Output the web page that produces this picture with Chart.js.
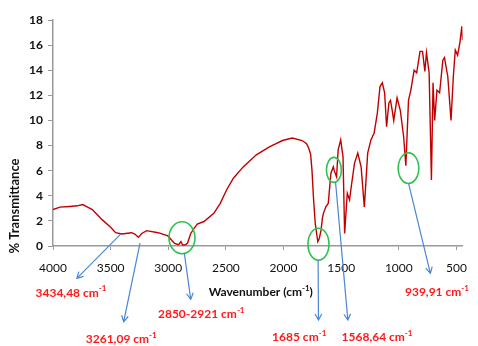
<!DOCTYPE html>
<html>
<head>
<meta charset="utf-8">
<script src="https://cdn.jsdelivr.net/npm/chart.js@4.4.1/dist/chart.umd.min.js"></script>
<style>
  html, body { margin: 0; padding: 0; background: #ffffff; }
  #wrap { width: 478px; height: 346px; position: relative; }
</style>
</head>
<body>
<div id="wrap"><canvas id="c" width="478" height="346"></canvas></div>
<script>
// ---- data ----
const wavenumbers = [4000, 3940, 3855, 3790, 3742, 3700, 3659, 3574, 3500, 3457, 3403, 3318, 3290, 3259, 3230, 3188, 3088, 3003, 2946, 2910, 2890, 2875, 2850, 2833, 2805, 2776, 2748, 2690, 2605, 2549, 2492, 2435, 2350, 2236, 2123, 2009, 1924, 1839, 1800, 1782, 1765, 1753, 1740, 1725, 1703, 1690, 1674, 1663, 1654, 1634, 1612, 1589, 1568, 1560, 1540, 1526, 1504, 1484, 1470, 1447, 1427, 1413, 1384, 1356, 1327, 1299, 1270, 1242, 1214, 1186, 1163, 1143, 1123, 1106, 1086, 1072, 1058, 1044, 1015, 987, 958, 939, 916, 896, 867, 845, 816, 794, 774, 760, 737, 717, 703, 689, 669, 646, 618, 604, 575, 547, 527, 510, 490, 470, 453, 447];
const transmittance = [2.9, 3.1, 3.15, 3.2, 3.3, 3.1, 2.9, 2.1, 1.5, 1.06, 0.96, 1.06, 0.95, 0.69, 1.0, 1.22, 1.06, 0.8, 0.2, 0.1, 0.35, 0.08, 0.1, 0.24, 1.0, 1.4, 1.75, 1.95, 2.6, 3.4, 4.5, 5.4, 6.3, 7.26, 7.9, 8.4, 8.6, 8.4, 8.15, 7.8, 7.3, 6.0, 3.8, 1.8, 0.35, 0.6, 1.28, 2.2, 2.6, 3.1, 3.4, 5.8, 6.3, 6.0, 5.5, 7.66, 8.45, 7.1, 1.0, 4.2, 3.67, 4.7, 6.6, 7.4, 6.3, 3.1, 7.4, 8.45, 9.0, 10.6, 12.7, 13.0, 12.2, 9.5, 11.4, 11.6, 10.85, 10.0, 11.8, 10.8, 8.7, 6.4, 11.6, 12.4, 14.0, 13.8, 15.5, 15.5, 13.9, 15.4, 13.8, 5.26, 13.0, 10.0, 12.4, 12.2, 14.8, 15.0, 13.5, 10.0, 13.5, 15.6, 15.2, 16.2, 17.5, 16.4];
const xTickValues = [4000, 3500, 3000, 2500, 2000, 1500, 1000, 500];
const yTickValues = [0, 2, 4, 6, 8, 10, 12, 14, 16, 18];

// peak annotations (anchored in data coordinates)
const peakLabels = ["3434,48", "3261,09", "2850-2921", "1685", "1568,64", "939,91"];
const labelAnchorWn = [3844, 3408, 2714, 1864, 1189, 669];
const labelAnchorT = [-3.72, -7.44, -5.45, -7.28, -7.28, -3.69];
const arrowFromWn = [3415, 3245, 2861, 1700, 1549, 916];
const arrowFromT = [0.93, 0.22, -0.56, -1.12, 5.1, 5.0];
const arrowToWn = [3793, 3387, 2805, 1697, 1442, 726];
const arrowToT = [-2.58, -6.04, -4.25, -5.9, -5.9, -2.18];
const circleWn = [2881, 1697, 1563, 916];
const circleT = [0.66, 0.14, 6.06, 6.2];
const circleRx = [13, 10.5, 7.5, 10.3];
const circleRy = [16, 16, 12.5, 15.3];

const FONT = 'Lato, "Open Sans", sans-serif';

function drawSupText(ctx, base, sup, tail, cx, cy, size, weight, color) {
  ctx.save();
  ctx.fillStyle = color;
  ctx.textBaseline = 'middle';
  ctx.textAlign = 'left';
  const f1 = weight + ' ' + size + 'px ' + FONT;
  const f2 = weight + ' ' + Math.round(size * 0.68) + 'px ' + FONT;
  ctx.font = f1;
  const w1 = ctx.measureText(base).width;
  const w3 = ctx.measureText(tail).width;
  ctx.font = f2;
  const w2 = ctx.measureText(sup).width;
  const x0 = cx - (w1 + w2 + w3) / 2;
  ctx.font = f1;
  ctx.fillText(base, x0, cy);
  if (tail) ctx.fillText(tail, x0 + w1 + w2, cy);
  ctx.font = f2;
  ctx.fillText(sup, x0 + w1, cy - size * 0.32);
  ctx.restore();
}

const annotPlugin = {
  id: 'annot',
  afterDraw(chart) {
    const ctx = chart.ctx;
    const xs = chart.scales.x, ys = chart.scales.y;
    const area = chart.chartArea;
    // green circles
    ctx.save();
    ctx.strokeStyle = '#2fc24f';
    ctx.lineWidth = 1.6;
    for (let i = 0; i < circleWn.length; i++) {
      ctx.beginPath();
      ctx.ellipse(xs.getPixelForValue(circleWn[i]), ys.getPixelForValue(circleT[i]), circleRx[i], circleRy[i], 0, 0, Math.PI * 2);
      ctx.stroke();
    }
    ctx.restore();
    // blue arrows
    ctx.save();
    ctx.strokeStyle = '#4a86d4';
    ctx.lineWidth = 1.2;
    for (let i = 0; i < arrowFromWn.length; i++) {
      const x1 = xs.getPixelForValue(arrowFromWn[i]), y1 = ys.getPixelForValue(arrowFromT[i]);
      const x2 = xs.getPixelForValue(arrowToWn[i]), y2 = ys.getPixelForValue(arrowToT[i]);
      ctx.beginPath();
      ctx.moveTo(x1, y1); ctx.lineTo(x2, y2);
      const a = Math.atan2(y2 - y1, x2 - x1);
      const L = 7, s = 0.5;
      ctx.moveTo(x2 - L * Math.cos(a - s), y2 - L * Math.sin(a - s));
      ctx.lineTo(x2, y2);
      ctx.lineTo(x2 - L * Math.cos(a + s), y2 - L * Math.sin(a + s));
      ctx.stroke();
    }
    ctx.restore();
    // red labels
    for (let i = 0; i < peakLabels.length; i++) {
      drawSupText(ctx, peakLabels[i] + ' cm', '-1', '', xs.getPixelForValue(labelAnchorWn[i]), ys.getPixelForValue(labelAnchorT[i]), 12, 'bold', '#ff1a1a');
    }
    // axis titles
    drawSupText(ctx, 'Wavenumber (cm', '-1', ')', (area.left + area.right) / 2 + 3, 292, 12, 'bold', '#111');
    ctx.save();
    ctx.font = 'bold 13px ' + FONT;
    ctx.fillStyle = '#111';
    ctx.textAlign = 'center';
    ctx.textBaseline = 'middle';
    ctx.translate(15, 206);
    ctx.rotate(-Math.PI / 2);
    ctx.fillText('% Transmittance', 0, 0);
    ctx.restore();
  }
};

const points = wavenumbers.map((w, i) => ({ x: w, y: transmittance[i] }));

new Chart(document.getElementById('c'), {
  type: 'line',
  data: {
    datasets: [{
      data: points,
      borderColor: '#c00000',
      borderWidth: 1.4,
      pointRadius: 0,
      tension: 0,
      fill: false
    }]
  },
  options: {
    responsive: false,
    animation: false,
    parsing: false,
    layout: { padding: { top: 20, right: 8, left: 0, bottom: 0 } },
    plugins: { legend: { display: false }, tooltip: { enabled: false }, title: { display: false } },
    scales: {
      x: {
        type: 'linear',
        reverse: true,
        min: 447,
        max: 4000,
        afterBuildTicks: s => { s.ticks = xTickValues.map(v => ({ value: v })); },
        afterFit: s => { s.height = 100; },
        grid: { drawOnChartArea: false, drawTicks: true, tickLength: 4, color: '#9a9a9a' },
        border: { color: '#9a9a9a', width: 1.5 },
        ticks: { autoSkip: false, maxRotation: 0, padding: 11, color: '#111', font: { family: FONT, size: 12 }, callback: v => String(v) }
      },
      y: {
        min: 0,
        max: 18,
        afterBuildTicks: s => { s.ticks = yTickValues.map(v => ({ value: v })); },
        afterFit: s => { s.width = 53; },
        grid: { drawOnChartArea: false, drawTicks: true, tickLength: 5, color: '#9a9a9a' },
        border: { color: '#9a9a9a', width: 1.5 },
        ticks: { padding: 5, color: '#111', font: { family: FONT, size: 12, weight: 'bold' }, callback: v => String(v) }
      }
    }
  },
  plugins: [annotPlugin]
});
</script>
</body>
</html>
